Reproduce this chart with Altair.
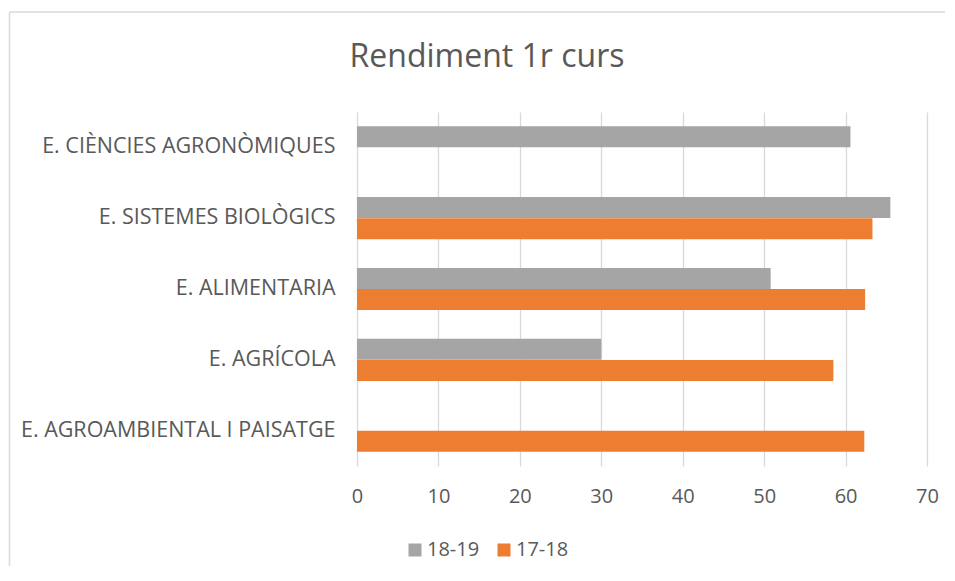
import altair as alt
import pandas as pd

categories = ["E. CIÈNCIES AGRONÒMIQUES", "E. SISTEMES BIOLÒGICS", "E. ALIMENTARIA",
              "E. AGRÍCOLA", "E. AGROAMBIENTAL I PAISATGE"]
series = ["18-19", "17-18"]
values_1819 = [60.6, 65.5, 50.8, 30.0, None]
values_1718 = [None, 63.3, 62.4, 58.5, 62.3]
colors = ["#a5a5a5", "#ed7d31"]
title_text = "Rendiment 1r curs"

rows = []
for c, a, b in zip(categories, values_1819, values_1718):
    if a is not None:
        rows.append({"cat": c, "serie": "18-19", "val": a})
    if b is not None:
        rows.append({"cat": c, "serie": "17-18", "val": b})
df = pd.DataFrame(rows)

FONT = "Open Sans"
TXT = "#595959"

W, H = 570, 354
left, top, right, bottom = 349, 104, 18, 100

one = pd.DataFrame({"a": [0]})
border_top = alt.Chart(one).mark_rule(stroke="#d9d9d9", strokeWidth=1.5).encode(
    x=alt.value(-347.5), x2=alt.value(W + right + 80), y=alt.value(-100)
)
border_left = alt.Chart(one).mark_rule(stroke="#d9d9d9", strokeWidth=1.5).encode(
    x=alt.value(-347.5), y=alt.value(-100), y2=alt.value(H + bottom + 80)
)

title = alt.Chart(pd.DataFrame({"t": [title_text]})).mark_text(
    font=FONT, fontSize=32, color=TXT, align="center", baseline="middle"
).encode(text="t:N", x=alt.value(130), y=alt.value(-55))

bars = alt.Chart(df).mark_bar(size=21).encode(
    x=alt.X("val:Q", scale=alt.Scale(domain=[0, 70], nice=False),
            axis=alt.Axis(values=list(range(0, 71, 10)), title=None, grid=True,
                          gridColor="#d9d9d9", gridWidth=1.3, domain=False, ticks=False,
                          labelFlush=False, labelFontSize=20, labelColor=TXT,
                          labelFont=FONT, labelPadding=20)),
    y=alt.Y("cat:N", sort=categories,
            scale=alt.Scale(paddingInner=0.4, paddingOuter=0.2),
            axis=alt.Axis(title=None, domain=False, ticks=False, labelFontSize=21.5,
                          labelColor=TXT, labelFont=FONT, labelPadding=22,
                          labelLimit=400, minExtent=300)),
    yOffset=alt.YOffset("serie:N", sort=series, scale=alt.Scale(paddingInner=0)),
    color=alt.Color("serie:N", sort=series,
                    scale=alt.Scale(domain=series, range=colors),
                    legend=alt.Legend(orient="none", direction="horizontal", title=None,
                                      legendX=48, legendY=H + 74,
                                      symbolType="square", symbolSize=169,
                                      symbolStrokeWidth=0, labelOffset=2,
                                      labelFontSize=20, labelColor=TXT, labelFont=FONT,
                                      columnPadding=14))
)

chart = alt.layer(border_top, border_left, title, bars).properties(
    width=W, height=H,
    autosize=alt.AutoSizeParams(type="none"),
    padding={"left": left, "top": top, "right": right, "bottom": bottom},
).configure_view(stroke=None)

chart.save("out.html", embed_options={"renderer": "svg", "actions": False})
